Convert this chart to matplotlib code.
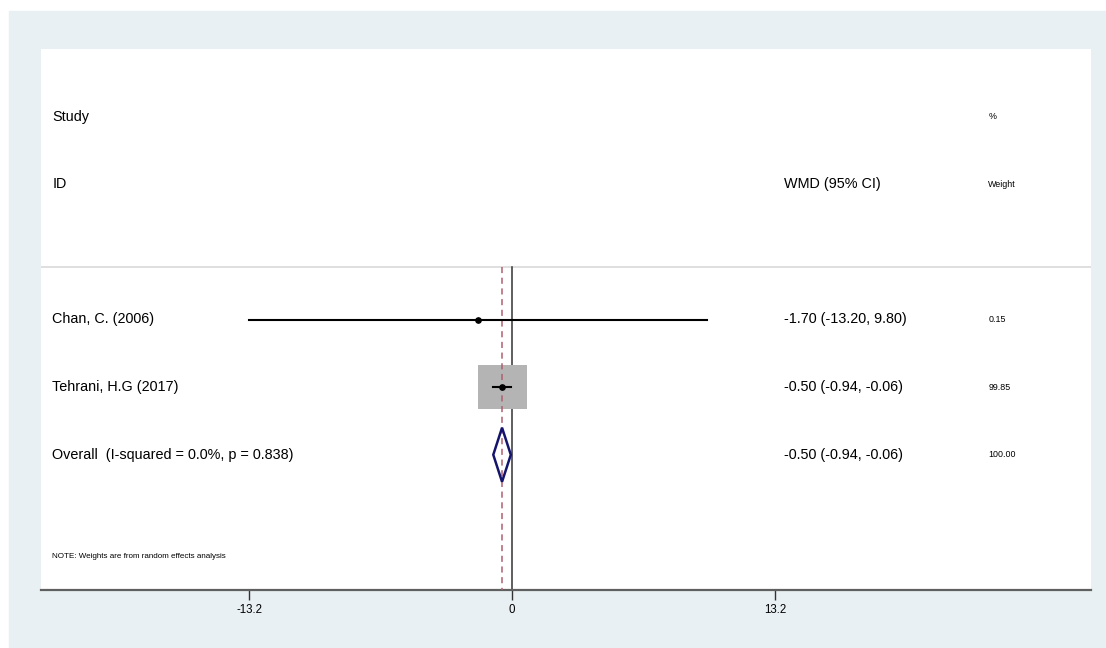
import numpy as np
import matplotlib.pyplot as plt
from matplotlib.patches import Rectangle, Polygon

plt.rcParams['font.family'] = ['Liberation Sans', 'DejaVu Sans']

# Datos del forest plot
studies = ['Chan, C. (2006)', 'Tehrani, H.G (2017)']
est = [-1.70, -0.50]
lo = [-13.20, -0.94]
hi = [9.80, -0.06]
weights = [0.15, 99.85]
pooled = (-0.50, -0.94, -0.06)
overall_label = 'Overall  (I-squared = 0.0%, p = 0.838)'
overall_weight = 100.00
xticks = [-13.2, 0, 13.2]

W, H = 1106, 648
fig = plt.figure(figsize=(W / 100, H / 100), dpi=100, facecolor='white')
fig.patches.append(Rectangle((9 / W, 0), 1 - 9 / W, 1 - 11 / H,
                             transform=fig.transFigure, color='#e8f0f3', zorder=-1))

ax = fig.add_axes([41 / W, 58 / H, 1050 / W, 541 / H])
ax.set_facecolor('white')
ax.set_xlim(-23.64, 29.06)
ax.set_ylim(7, -1)

fs_main = 10.4
fs_small = 6.4
fs_note = 5.8

# filas
rows = [3, 4]
y_overall = 5

# encabezados
ax.text(-23.08, 0, 'Study', fontsize=fs_main, va='center')
ax.text(-23.08, 1, 'ID', fontsize=fs_main, va='center')
ax.text(13.65, 1, 'WMD (95% CI)', fontsize=fs_main, va='center')
ax.text(23.9, 0, '%', fontsize=fs_small, va='center')
ax.text(23.9, 1, 'Weight', fontsize=fs_small, va='center')

# separador
ax.axhline(2.23, color='#d9d9d9', lw=1.2)

# lineas verticales
ax.plot([0, 0], [2.23, 7], color='#333333', lw=1.1, zorder=2)
ax.plot([pooled[0]] * 2, [2.23, 7], color='#b0606e', lw=1.1, ls=(0, (4, 3)), zorder=4)

box_max = 2.46  # ancho para peso 100%
for i in range(len(studies)):
    y = rows[i]
    side = box_max * np.sqrt(weights[i] / 100)
    hgt = side / 2.46 * 0.655
    ax.add_patch(Rectangle((est[i] - side / 2, y - hgt / 2), side, hgt,
                           facecolor='#b4b4b4', edgecolor='none', zorder=3))
    ax.plot([lo[i], hi[i]], [y, y], color='black', lw=1.5, zorder=5)
    ax.plot(est[i], y, 'o', color='black', ms=3.8, zorder=6)
    ax.text(-23.08, y, studies[i], fontsize=fs_main, va='center')
    ax.text(13.65, y, '%.2f (%.2f, %.2f)' % (est[i], lo[i], hi[i]), fontsize=fs_main, va='center')
    ax.text(23.9, y, '%.2f' % weights[i], fontsize=fs_small, va='center')

# diamante
p, pl, ph = pooled
ax.add_patch(Polygon([[pl, y_overall], [p, y_overall - 0.4], [ph, y_overall], [p, y_overall + 0.4]],
                     closed=True, facecolor='none', edgecolor='#14146e', lw=1.8, zorder=5))
ax.text(-23.08, y_overall, overall_label, fontsize=fs_main, va='center')
ax.text(13.65, y_overall, '%.2f (%.2f, %.2f)' % pooled, fontsize=fs_main, va='center')
ax.text(23.9, y_overall, '%.2f' % overall_weight, fontsize=fs_small, va='center')

ax.text(-23.08, 6.5, 'NOTE: Weights are from random effects analysis', fontsize=fs_note, va='center')

# ejes
for s in ['top', 'right', 'left']:
    ax.spines[s].set_visible(False)
ax.spines['bottom'].set_color('#606060')
ax.spines['bottom'].set_linewidth(1.6)
ax.set_yticks([])
ax.set_xticks(xticks)
ax.set_xticklabels(['%g' % t for t in xticks], fontsize=8.3)
ax.tick_params(axis='x', length=7, width=1, color='#333333', pad=3)

fig.savefig('out.png', dpi=100, facecolor=fig.get_facecolor())
